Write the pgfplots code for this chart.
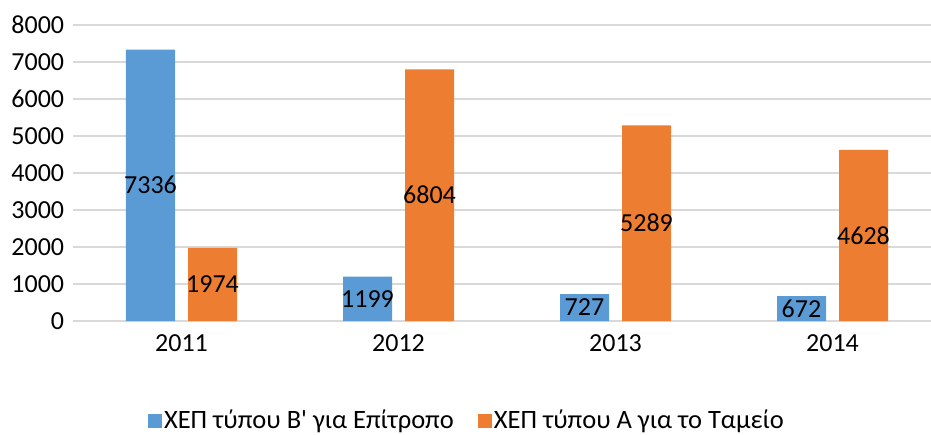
\documentclass[border=0pt]{standalone}
\usepackage{pgfplots}
\pgfplotsset{compat=1.18}
\usepackage{fontspec}
\setmainfont{Carlito}
\definecolor{cblue}{HTML}{5B9BD5}
\definecolor{corange}{HTML}{ED7D31}
\definecolor{cgrid}{HTML}{D9D9D9}
\begin{document}
\fontsize{26}{31}\selectfont
\begin{tikzpicture}
\useasboundingbox (-73pt,-113pt) rectangle (858pt,321pt);
\begin{axis}[
  at={(0pt,0pt)}, anchor=south west,
  scale only axis,
  width=868pt, height=296pt,
  xmin=-0.5, xmax=3.5,
  ymin=0, ymax=8000,
  ytick={0,1000,...,8000},
  xtick={0,1,2,3},
  xticklabels={2011,2012,2013,2014},
  /pgf/number format/assume math mode=true,
  /pgf/number format/set thousands separator={},
  scaled y ticks=false,
  major tick length=0pt,
  tick style={draw=none},
  axis line style={draw=none},
  ymajorgrids,
  grid style={draw=cgrid, line width=1.6pt},
  tick label style={font=\fontsize{26}{31}\selectfont},
  xticklabel style={yshift=-5pt},
  ybar=13pt,
  bar width=49pt,
  visualization depends on=y \as \rawy,
  nodes near coords,
  nodes near coords style={font=\fontsize{26}{31}\selectfont, text=black, anchor=center,
    shift={(axis direction cs:0,-\rawy/2)}},
  legend style={at={(394pt,-100pt)}, anchor=center, draw=none, fill=none,
    legend columns=2, font=\fontsize{26.5}{31}\selectfont,
    /tikz/every even column/.append style={column sep=22pt},
    inner sep=0pt},
  legend image code/.code={\fill[#1] (-6pt,-7pt) rectangle (8pt,7pt);},
]
\addplot[fill=cblue, draw=none] coordinates {(0,7336) (1,1199) (2,727) (3,672)};
\addlegendentry{ΧΕΠ τύπου Β\textquotesingle{} για Επίτροπο}
\addplot[fill=corange, draw=none] coordinates {(0,1974) (1,6804) (2,5289) (3,4628)};
\addlegendentry{ΧΕΠ τύπου Α για το Ταμείο}
\end{axis}
\end{tikzpicture}
\end{document}
